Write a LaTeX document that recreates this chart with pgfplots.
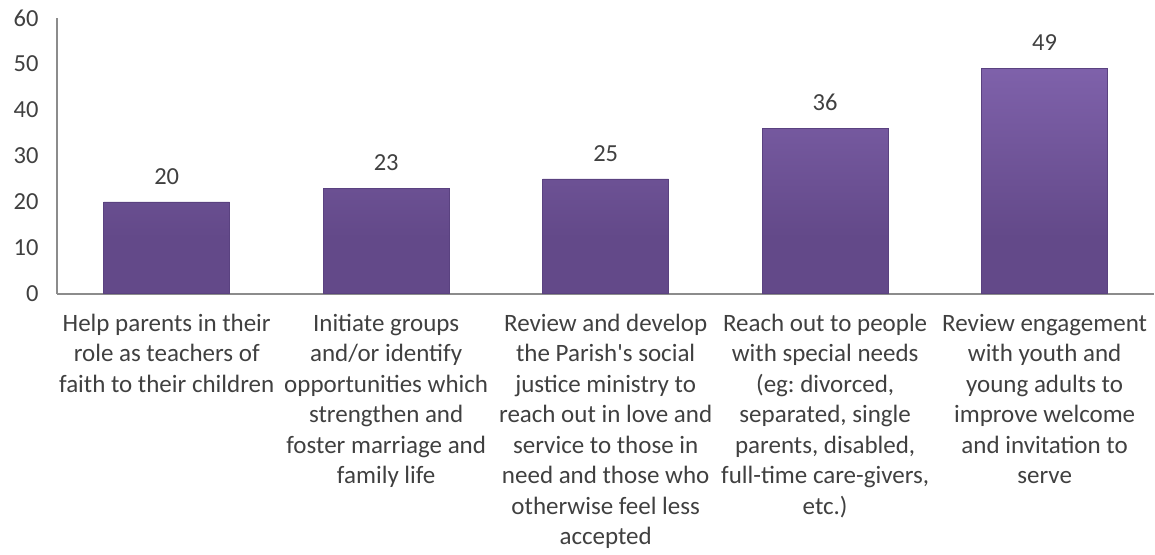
\documentclass[border=0pt]{standalone}
\usepackage{pgfplots}
\pgfplotsset{compat=1.18}
\usepackage{fontspec}
\setmainfont{Carlito}
\frenchspacing
\definecolor{txt}{HTML}{404040}
\definecolor{axgray}{HTML}{8C8C8C}
\definecolor{barhi}{HTML}{A98BDA}
\definecolor{bartop}{HTML}{8466B1}
\definecolor{barbot}{HTML}{634989}
\definecolor{baredge}{HTML}{5A4280}
\pgfdeclareverticalshading{barshade}{100bp}{color(0bp)=(barbot); color(25bp)=(barbot); color(70bp)=(bartop); color(73bp)=(barhi); color(75bp)=(barhi)}
\begin{document}
\begin{tikzpicture}
\begin{axis}[
    scale only axis,
    width=1098pt, height=276pt,
    axis x line=bottom, axis y line=left,
    axis line style={axgray, line width=1.3pt, -},
    xmin=-0.5, xmax=4.5,
    ymin=0, ymax=60,
    ytick={0,10,...,60},
    xtick=data,
    major tick length=0pt,
    xticklabels={
      {Help parents in their\\role as teachers of\\faith to their children},
      {Initiate groups\\and/or identify\\opportunities which\\strengthen and\\foster marriage and\\family life},
      {Review and develop\\the Parish\textquotesingle s social\\justice ministry to\\reach out in love and\\service to those in\\need and those who\\otherwise feel less\\accepted},
      {Reach out to people\\with special needs\\(eg: divorced,\\separated, single\\parents, disabled,\\full-time care-givers,\\etc.)},
      {Review engagement\\with youth and\\young adults to\\improve welcome\\and invitation to\\serve}},
    xticklabel style={align=center, font=\fontsize{25}{30.5}\selectfont, text=txt, inner sep=0pt, yshift=-20pt},
    yticklabel style={font=\fontsize{24.5}{26}\selectfont, text=txt, xshift=-15pt},
    /pgf/number format/assume math mode=true,
    ybar, bar width=126pt,
    nodes near coords,
    every node near coord/.append style={font=\fontsize{24.5}{26}\selectfont, text=txt, yshift=14pt},
    clip=false,
]
\addplot[draw=baredge, shading=barshade, line width=0.8pt]
  coordinates {(0,20) (1,23) (2,25) (3,36) (4,49)};
\end{axis}
\path[use as bounding box] (-57pt,-261pt) rectangle (1098pt,294pt);
\end{tikzpicture}
\end{document}
